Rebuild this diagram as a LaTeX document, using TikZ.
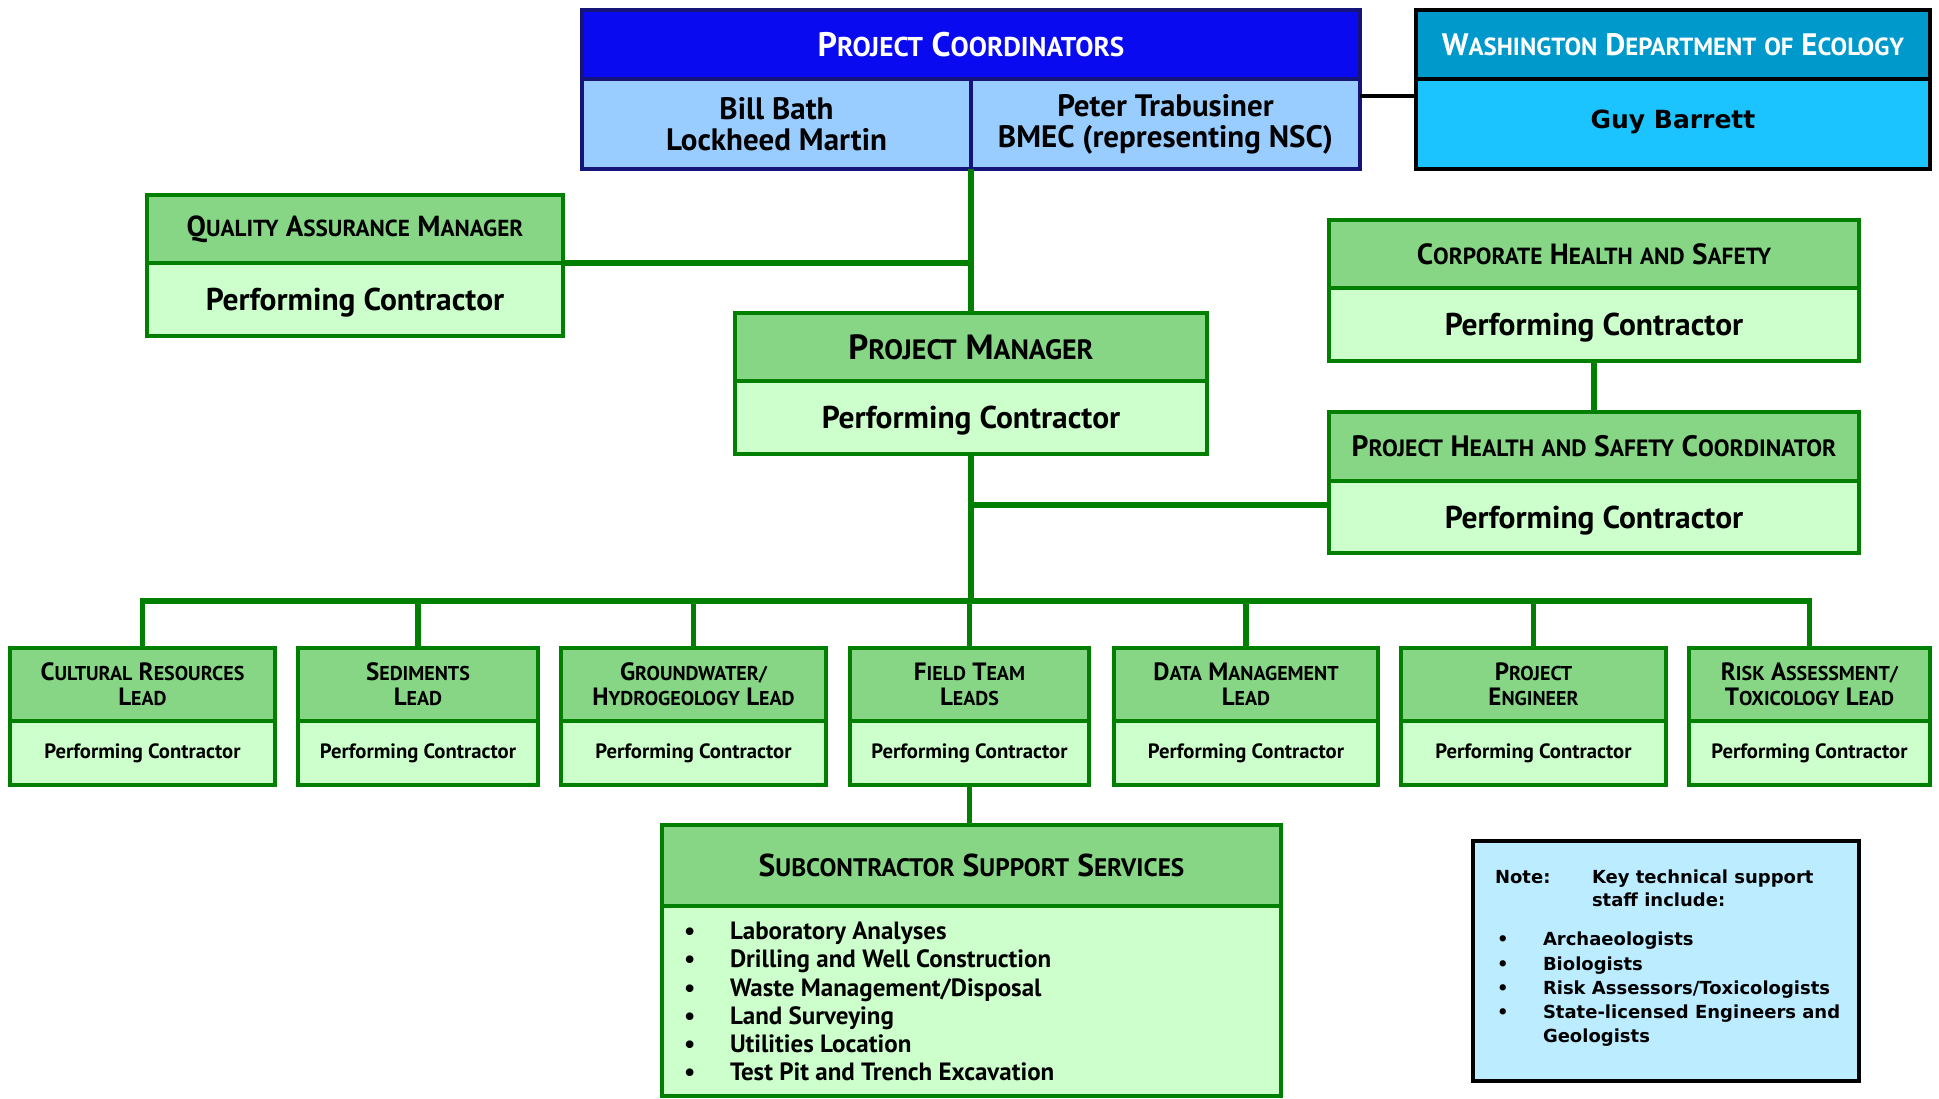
\documentclass[tikz,border=0pt]{standalone}
\usepackage{fontspec}
\setmainfont{PT Sans}
\newfontfamily\dv{DejaVu Sans}
\usepackage{graphicx}
\newcommand\SC[2]{#1\scalebox{0.8}{#2}}
\newcommand\fs[2]{\fontsize{#1}{#2}\selectfont\bfseries}
\definecolor{pcblue}{HTML}{0A0AF0}
\definecolor{pcborder}{HTML}{14147A}
\definecolor{pclight}{HTML}{99CCFF}
\definecolor{ecohdr}{HTML}{0099CC}
\definecolor{ecobody}{HTML}{1CC4FF}
\definecolor{ghdr}{HTML}{86D686}
\definecolor{gbody}{HTML}{CCFFCC}
\definecolor{gline}{HTML}{007F00}
\definecolor{notefill}{HTML}{BCECFF}
\begin{document}
\begin{tikzpicture}[x=1pt,y=-1pt,
  base/.style={inner sep=0pt, outer sep=0pt, anchor=north west, align=center},
  pcbox/.style={base, draw=pcborder, line width=3.5pt},
  ecbox/.style={base, draw=black, line width=3.5pt},
  gbox/.style={base, draw=gline, line width=4pt},
  gh/.style={gbox, fill=ghdr},
  gb/.style={gbox, fill=gbody, text depth=0pt},
  conn/.style={draw=gline, line width=5.5pt},
]
\useasboundingbox (0,0) rectangle (1939,1099);

% Project coordinators
\node[pcbox, fill=pcblue, text=white, minimum width=778, minimum height=69, font=\fs{34}{34}] (pch) at (582,10) {\SC{P}{ROJECT} \SC{C}{OORDINATORS}};
\node[pcbox, fill=pclight, minimum width=389, minimum height=90, font=\fs{31}{31}] (pcL) at (582,79) {Bill Bath\\Lockheed Martin};
\node[pcbox, fill=pclight, minimum width=389, minimum height=90, font=\fs{31}{31}] (pcR) at (971,79) {Peter Trabusiner\\BMEC (representing NSC)};

% Washington Department of Ecology
\node[ecbox, fill=ecohdr, text=white, minimum width=514, minimum height=69, font=\fs{31}{31}] (ech) at (1416,10) {\SC{W}{ASHINGTON} \SC{D}{EPARTMENT} \scalebox{0.8}{OF} \SC{E}{COLOGY}};
\node[ecbox, fill=ecobody, minimum width=514, minimum height=90, text depth=10pt, font=\dv\fs{25}{25}] (ecb) at (1416,79) {Guy Barrett};

% Quality assurance
\node[gh, minimum width=416, minimum height=68, font=\fs{29}{29}] (qah) at (147,195) {\SC{Q}{UALITY} \SC{A}{SSURANCE} \SC{M}{ANAGER}};
\node[gb, minimum width=416, minimum height=73, font=\fs{31.5}{31.5}] (qab) at (147,263) {Performing Contractor};

% Project manager
\node[gh, minimum width=472, minimum height=68, font=\fs{35}{35}] (pmh) at (735,313) {\SC{P}{ROJECT} \SC{M}{ANAGER}};
\node[gb, minimum width=472, minimum height=73, font=\fs{31.5}{31.5}] (pmb) at (735,381) {Performing Contractor};

% Corporate health and safety
\node[gh, minimum width=530, minimum height=68, font=\fs{29.2}{29.2}] (chsh) at (1329,220) {\SC{C}{ORPORATE} \SC{H}{EALTH} \scalebox{0.8}{AND} \SC{S}{AFETY}};
\node[gb, minimum width=530, minimum height=73, font=\fs{31.5}{31.5}] (chsb) at (1329,288) {Performing Contractor};

% Project health and safety coordinator
\node[gh, minimum width=530, minimum height=69, font=\fs{29.5}{29.5}] (phh) at (1329,412) {\SC{P}{ROJECT} \SC{H}{EALTH} \scalebox{0.8}{AND} \SC{S}{AFETY} \SC{C}{OORDINATOR}};
\node[gb, minimum width=530, minimum height=72, font=\fs{31.5}{31.5}] (phb) at (1329,481) {Performing Contractor};

% Bottom row
\tikzset{bh/.style={gh, minimum height=73, font=\fs{25}{25}}, bb/.style={gb, minimum height=64, text depth=4pt, font=\fs{20.7}{20.7}}}
\node[bh, minimum width=265] (b1h) at (10,648) {\SC{C}{ULTURAL} \SC{R}{ESOURCES}\\\SC{L}{EAD}};
\node[bb, minimum width=265] (b1b) at (10,721) {Performing Contractor};
\node[bh, minimum width=240] (b2h) at (298,648) {\SC{S}{EDIMENTS}\\\SC{L}{EAD}};
\node[bb, minimum width=240] (b2b) at (298,721) {Performing Contractor};
\node[bh, minimum width=265] (b3h) at (561,648) {\SC{G}{ROUNDWATER/}\\\SC{H}{YDROGEOLOGY} \SC{L}{EAD}};
\node[bb, minimum width=265] (b3b) at (561,721) {Performing Contractor};
\node[bh, minimum width=239] (b4h) at (850,648) {\SC{F}{IELD} \SC{T}{EAM}\\\SC{L}{EADS}};
\node[bb, minimum width=239] (b4b) at (850,721) {Performing Contractor};
\node[bh, minimum width=264] (b5h) at (1114,648) {\SC{D}{ATA} \SC{M}{ANAGEMENT}\\\SC{L}{EAD}};
\node[bb, minimum width=264] (b5b) at (1114,721) {Performing Contractor};
\node[bh, minimum width=265] (b6h) at (1401,648) {\SC{P}{ROJECT}\\\SC{E}{NGINEER}};
\node[bb, minimum width=265] (b6b) at (1401,721) {Performing Contractor};
\node[bh, minimum width=241] (b7h) at (1689,648) {\SC{R}{ISK} \SC{A}{SSESSMENT/}\\\SC{T}{OXICOLOGY} \SC{L}{EAD}};
\node[bb, minimum width=241] (b7b) at (1689,721) {Performing Contractor};

% Subcontractor support services
\node[gh, minimum width=619, minimum height=81, font=\fs{31.6}{31.6}] (sssh) at (662,825) {\SC{S}{UBCONTRACTOR} \SC{S}{UPPORT} \SC{S}{ERVICES}};
\node[gb, minimum width=619, minimum height=190] (sssb) at (662,906) {};
\node[base, align=left, font=\fs{25}{28.2}] (ssslist) at (684,920) {%
\begin{tabular}{@{}p{46pt}@{}l@{}}
\textbullet & Laboratory Analyses\\
\textbullet & Drilling and Well Construction\\
\textbullet & Waste Management/Disposal\\
\textbullet & Land Surveying\\
\textbullet & Utilities Location\\
\textbullet & Test Pit and Trench Excavation
\end{tabular}};

% Note
\node[base, draw=black, line width=4pt, fill=notefill, minimum width=386, minimum height=240] (note) at (1473,841) {};
\node[base, align=left, font=\dv\fs{18}{23}] (notehead) at (1495,867) {%
\begin{tabular}{@{}p{97pt}@{}l@{}}
Note: & Key technical support\\
 & staff include:
\end{tabular}};
\node[base, align=left, font=\dv\fs{18}{24.25}] (notelist) at (1497,929) {%
\begin{tabular}{@{}p{46pt}@{}l@{}}
\textbullet & Archaeologists\\
\textbullet & Biologists\\
\textbullet & Risk Assessors/Toxicologists\\
\textbullet & State-licensed Engineers and\\
 & Geologists
\end{tabular}};

% Connectors
\coordinate (ecJ) at (0,96);
\coordinate (hsJ) at (0,505);
\coordinate (busY) at (0,601);
\draw[line width=3.5pt] (pcR.east |- ecJ) -- (ecb.west |- ecJ);
\draw[conn] (pmh.north |- pcL.south) -- (pmh.north);
\draw[conn] (qah.south east) -- (qah.south east -| pmh.north);
\draw[conn] (chsb.south) -- (phh.north);
\draw[conn] (pmb.south) -- (pmb.south |- busY);
\draw[conn] (pmb.south |- hsJ) -- (phb.west |- hsJ);
\draw[conn, line join=miter] (b1h.north) -- (b1h.north |- busY) -- (b7h.north |- busY) -- (b7h.north);
\foreach \b in {b2h,b3h,b4h,b5h,b6h} {\draw[conn] (\b.north) -- (\b.north |- busY);}
\draw[conn] (b4b.south) -- (b4b.south |- sssh.north);
\end{tikzpicture}
\end{document}
